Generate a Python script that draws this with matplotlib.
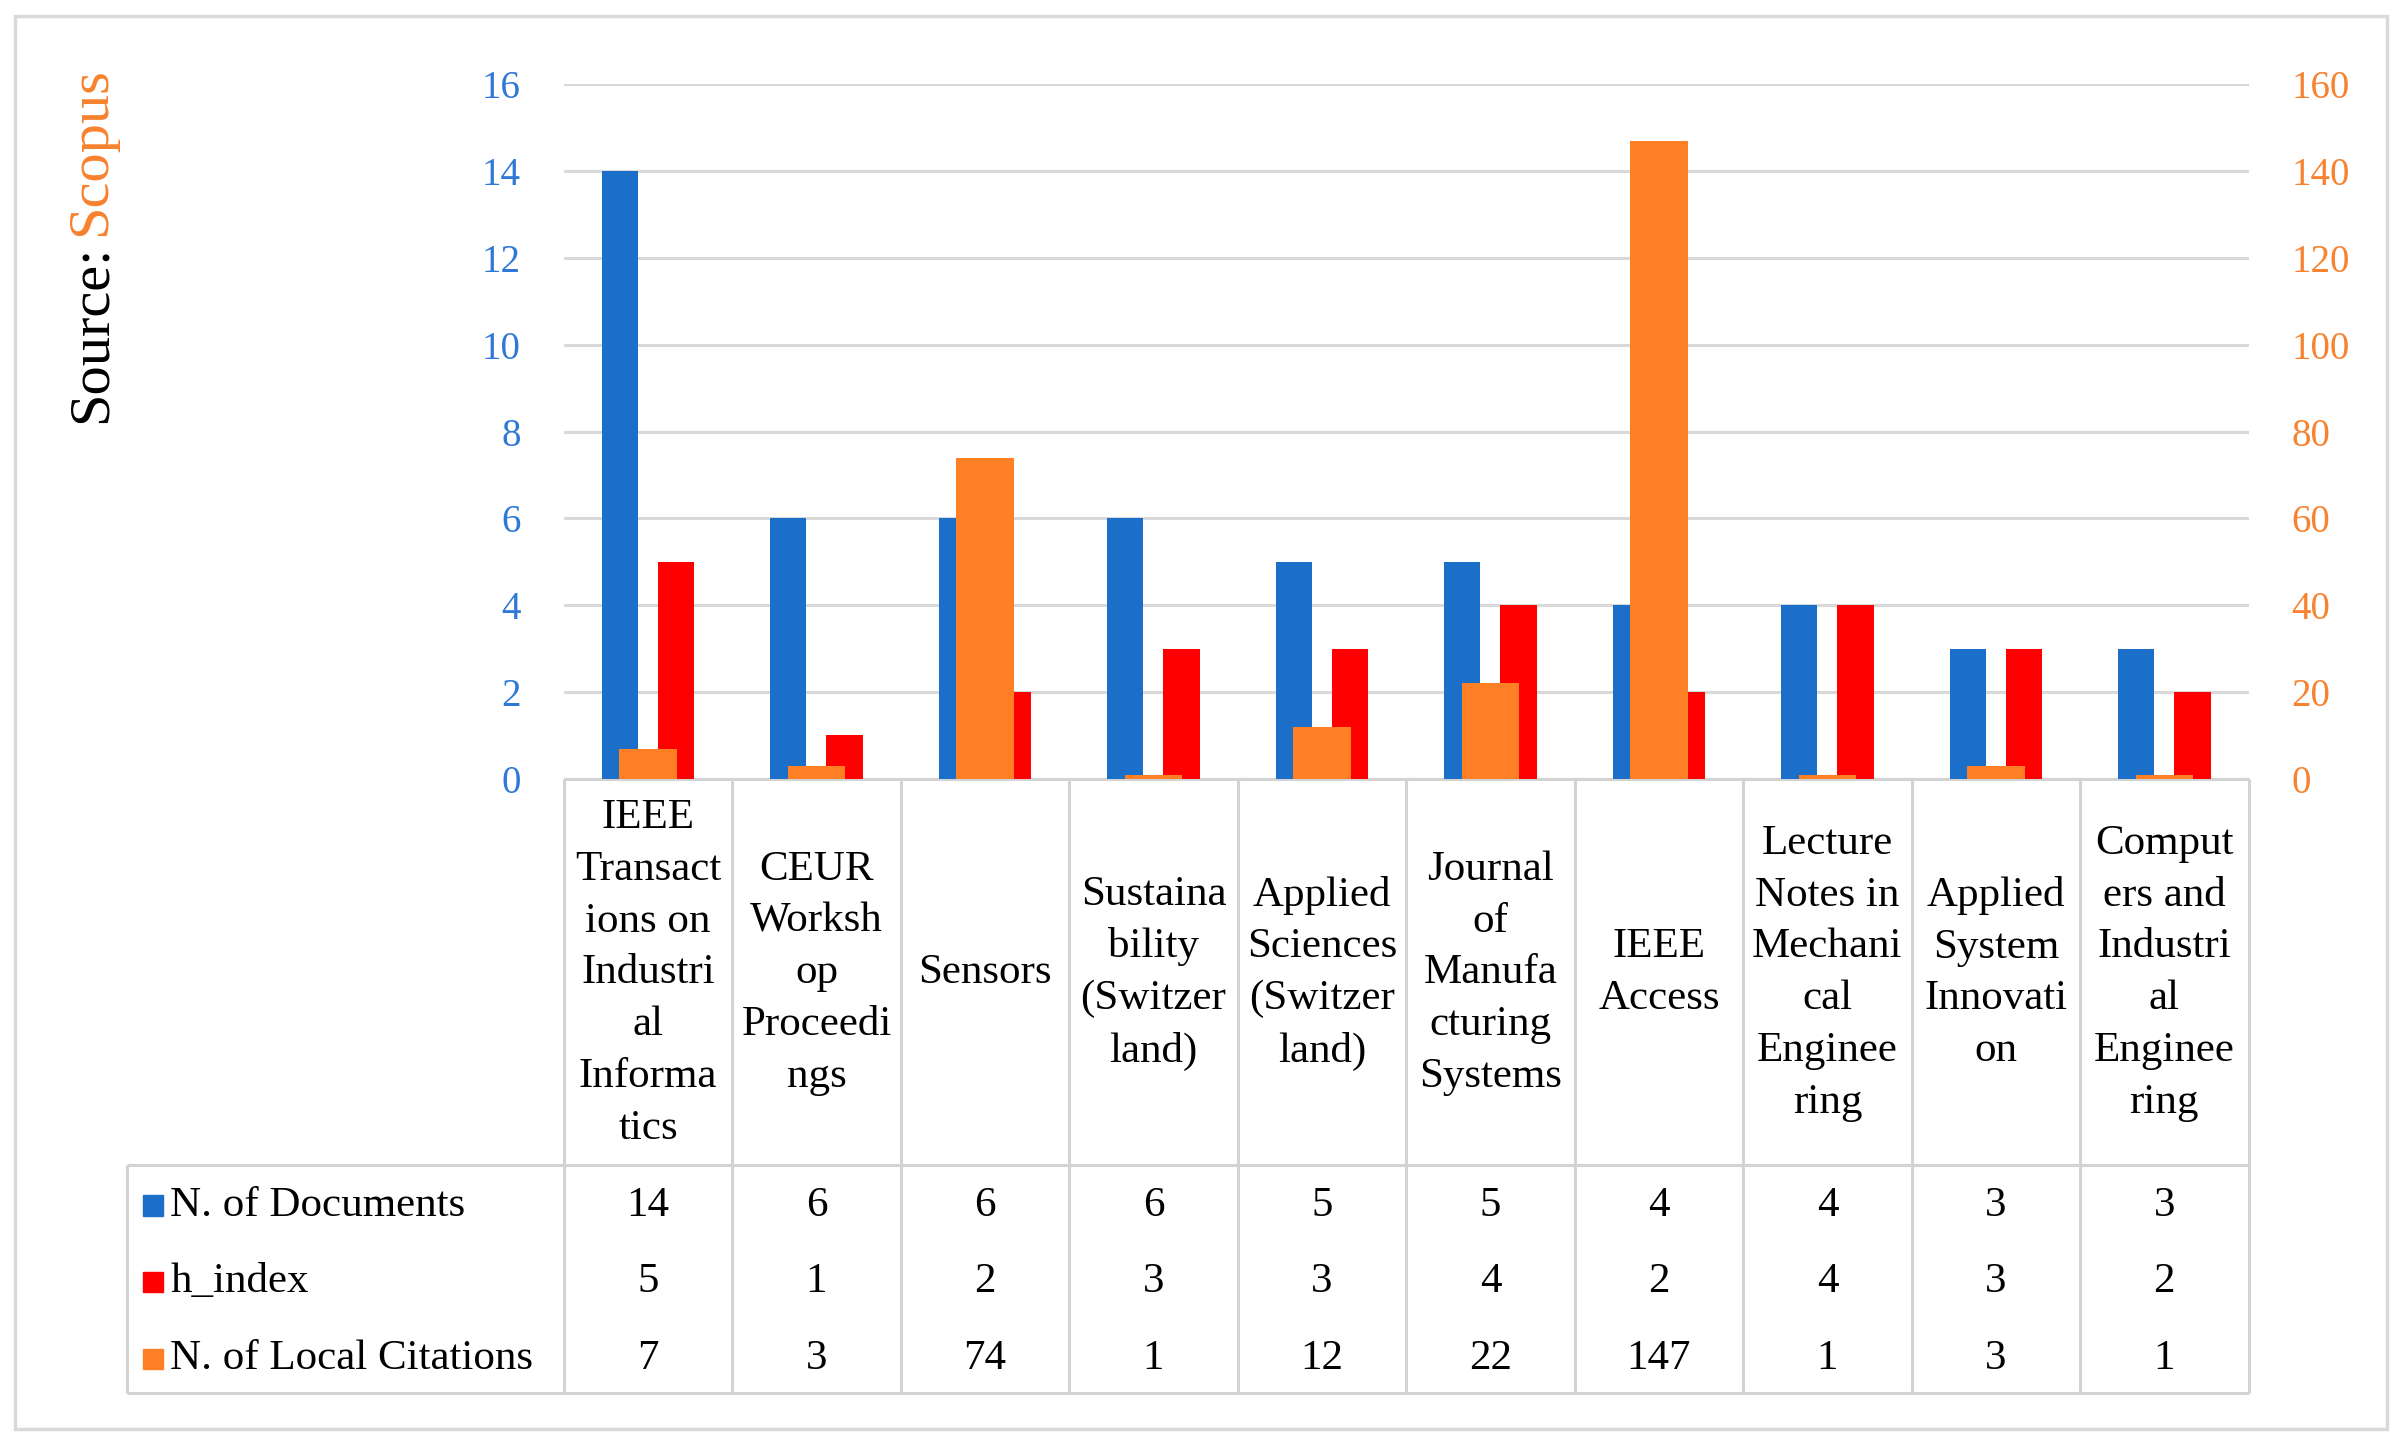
import numpy as np
import matplotlib
matplotlib.use("Agg")
import matplotlib.pyplot as plt
from matplotlib.transforms import blended_transform_factory
from matplotlib.patches import Rectangle
from matplotlib.lines import Line2D

# ---------------- data ----------------
categories = [
    "IEEE\nTransact\nions on\nIndustri\nal\nInforma\ntics",
    "CEUR\nWorksh\nop\nProceedi\nngs",
    "Sensors",
    "Sustaina\nbility\n(Switzer\nland)",
    "Applied\nSciences\n(Switzer\nland)",
    "Journal\nof\nManufa\ncturing\nSystems",
    "IEEE\nAccess",
    "Lecture\nNotes in\nMechani\ncal\nEnginee\nring",
    "Applied\nSystem\nInnovati\non",
    "Comput\ners and\nIndustri\nal\nEnginee\nring",
]
n_documents = [14, 6, 6, 6, 5, 5, 4, 4, 3, 3]
h_index = [5, 1, 2, 3, 3, 4, 2, 4, 3, 2]
local_citations = [7, 3, 74, 1, 12, 22, 147, 1, 3, 1]
series_names = ["N. of Documents", "h_index", "N. of Local Citations"]
left_ticks = [0, 2, 4, 6, 8, 10, 12, 14, 16]
right_ticks = [0, 20, 40, 60, 80, 100, 120, 140, 160]

# ---------------- style ----------------
BLUE = "#1B6FC8"
RED = "#FF0000"
ORANGE = "#FF7F24"
BLUE_T = "#2F78D6"
ORANGE_T = "#F7822F"
GRID = "#D9D9D9"
LINE = "#D3D3D3"
FONT = "Liberation Serif"
TFS = 31

plt.rcParams["font.family"] = [FONT, "DejaVu Serif"]

fig = plt.figure(figsize=(24.07, 14.44), dpi=100)

# outer border
fig.patches.append(Rectangle((0.0064, 0.0106), 0.9853, 0.9784, transform=fig.transFigure,
                             fill=False, edgecolor=GRID, lw=2.5))

ax = fig.add_axes([0.2342, 0.4606, 0.7000, 0.4809])
ax2 = ax.twinx()

x = np.arange(len(categories))
ax.bar(x - 0.167, n_documents, width=0.215, color=BLUE, zorder=2)
ax.bar(x + 0.167, h_index, width=0.215, color=RED, zorder=2)
ax2.bar(x, local_citations, width=0.34, color=ORANGE, zorder=2)

ax.set_xlim(-0.5, len(categories) - 0.5)
ax.set_ylim(0, 16)
ax2.set_ylim(0, 160)
ax.set_yticks(left_ticks)
ax2.set_yticks(right_ticks)
ax.set_xticks([])
ax.yaxis.grid(True, color=GRID, lw=2.2)
ax.set_axisbelow(True)
for a in (ax, ax2):
    for s in a.spines.values():
        s.set_visible(False)
    a.patch.set_visible(False)
ax.tick_params(axis="y", length=0, pad=31, labelsize=28, labelcolor=BLUE_T)
ax2.tick_params(axis="y", length=0, pad=31, labelsize=28, labelcolor=ORANGE_T)

# ---------------- table ----------------
trans = blended_transform_factory(ax.transData, ax.transAxes)
y_top = 0.0
y_hdr = -0.5553
y_bot = -0.885
row_y = [-0.6084, -0.719, -0.8296]
base_off = 0.0205
leg_left = -0.259
lw_t = 2.2

def add_line(xs, ys, transform):
    ax.add_line(Line2D(xs, ys, transform=transform, color=LINE, lw=lw_t,
                       clip_on=False, zorder=1, solid_capstyle="butt"))

# x-axis line (top of header)
add_line([-0.5, len(categories) - 0.5], [y_top, y_top], trans)
# horizontal lines of data block
add_line([leg_left, 1.0], [y_hdr, y_hdr], ax.transAxes)
add_line([leg_left, 1.0], [y_bot, y_bot], ax.transAxes)
add_line([leg_left, leg_left], [y_hdr, y_bot], ax.transAxes)
for b in np.arange(-0.5, len(categories), 1.0):
    add_line([b, b], [y_top, y_bot], trans)

for i, cat in enumerate(categories):
    ax.text(i, (y_top + y_hdr) / 2 - 0.002, cat, transform=trans, ha="center", va="center",
            multialignment="center", fontsize=TFS, linespacing=1.45, family=FONT)
    for r, vals in enumerate([n_documents, h_index, local_citations]):
        ax.text(i, row_y[r] - base_off, str(vals[i]), transform=trans, ha="center",
                va="baseline", fontsize=TFS, family=FONT)

for r, (name, col) in enumerate(zip(series_names, [BLUE, RED, ORANGE])):
    ax.add_patch(Rectangle((-0.2495, row_y[r] - base_off), 0.0118, 0.029,
                           transform=ax.transAxes, color=col, clip_on=False))
    ax.text(-0.2335, row_y[r] - base_off, name, transform=ax.transAxes, ha="left",
            va="baseline", fontsize=TFS, family=FONT)

# ---------------- source label ----------------
t1 = fig.text(0.038, 0.7074, "Source:", rotation=90, ha="center", va="bottom",
              fontsize=42, color="black", family=FONT)
ann = plt.annotate("Scopus", xy=(0.5, 1.0), xycoords=t1, xytext=(0, 6),
                   textcoords="offset points", rotation=90, ha="center", va="bottom",
                   fontsize=42, color=ORANGE_T, family=FONT, annotation_clip=False)

fig.savefig("out.png", dpi=100)
